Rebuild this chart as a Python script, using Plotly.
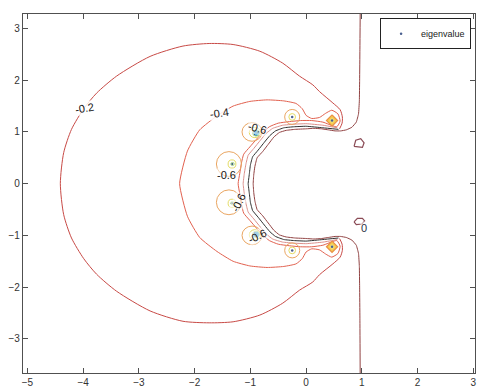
import plotly.graph_objects as go

# ---------------- data (data units) ----------------
# outer contour, level -0.2
ARC_M02_X = [0.60, 0.645, 0.65, 0.61, 0.48, 0.24, 0.12, -0.12, -0.42, -0.83, -1.31, -1.74, -2.21, -2.80, -3.40,
             -3.76, -3.99, -4.21, -4.35, -4.41, -4.35, -4.21, -3.99, -3.76, -3.40, -2.80, -2.21, -1.74, -1.31,
             -0.83, -0.42, -0.12, 0.12, 0.24, 0.48, 0.61, 0.65, 0.645, 0.60]
ARC_M02_Y = [1.06, 1.17, 1.29, 1.43, 1.56, 1.78, 1.91, 2.08, 2.33, 2.56, 2.69, 2.71, 2.66, 2.46, 2.08,
             1.75, 1.45, 1.05, 0.60, 0.00, -0.60, -1.05, -1.45, -1.75, -2.08, -2.46, -2.66, -2.69, -2.67,
             -2.54, -2.31, -2.06, -1.90, -1.76, -1.55, -1.42, -1.29, -1.17, -1.06]

# vertical line joined to the innermost C-shaped line
VLINE_X = [0.97, 0.965, 0.96, 0.955, 0.94, 0.90, 0.82, 0.72, 0.62, 0.52, 0.40, 0.28, 0.14, 0.00, -0.20, -0.36,
           -0.48, -0.58, -0.68, -0.78, -0.88, -0.92, -0.94, -0.95, -0.94, -0.92, -0.88, -0.78, -0.68, -0.58,
           -0.48, -0.36, -0.20, 0.00, 0.14, 0.28, 0.40, 0.52, 0.62, 0.72, 0.82, 0.90, 0.94, 0.955, 0.96, 0.965, 0.97]
VLINE_Y = [3.29, 2.60, 2.00, 1.60, 1.35, 1.19, 1.09, 1.04, 1.02, 1.02, 1.04, 1.06, 1.07, 1.06, 1.05, 1.03,
           0.99, 0.90, 0.76, 0.62, 0.50, 0.33, 0.17, 0.00, -0.17, -0.33, -0.50, -0.62, -0.76, -0.90,
           -0.99, -1.03, -1.05, -1.06, -1.07, -1.06, -1.04, -1.02, -1.02, -1.04, -1.09, -1.19, -1.35, -1.60, -2.00, -2.60, -3.73]

# pink C line
C2_X = [0.56, 0.30, 0.00, -0.22, -0.42, -0.60, -0.72, -0.82, -0.94, -1.04, -1.08, -1.11, -1.13,
        -1.11, -1.08, -1.04, -0.94, -0.82, -0.72, -0.60, -0.42, -0.22, 0.00, 0.30, 0.56]
C2_Y = [1.08, 1.13, 1.16, 1.15, 1.13, 1.07, 0.97, 0.84, 0.68, 0.55, 0.38, 0.19, 0.00,
        -0.19, -0.38, -0.55, -0.68, -0.84, -0.97, -1.07, -1.13, -1.15, -1.16, -1.13, -1.08]

# black C line
C3_X = [0.58, 0.30, 0.00, -0.22, -0.40, -0.55, -0.65, -0.75, -0.86, -0.96, -1.00, -1.02, -1.04,
        -1.02, -1.00, -0.96, -0.86, -0.75, -0.65, -0.55, -0.40, -0.22, 0.00, 0.30, 0.58]
C3_Y = [1.05, 1.08, 1.11, 1.10, 1.08, 1.02, 0.93, 0.80, 0.65, 0.52, 0.36, 0.18, 0.00,
        -0.18, -0.36, -0.52, -0.65, -0.80, -0.93, -1.02, -1.08, -1.10, -1.11, -1.08, -1.05]

# level -0.4 (closed band around the C)
M04_X = [0.55, 0.61, 0.57, 0.46, 0.35, 0.24, 0.10, 0.00, -0.07, -0.18, -0.40, -0.70, -1.01, -1.31, -1.60,
         -1.91, -2.13, -2.27, -2.13, -1.91, -1.60, -1.31, -1.01, -0.70, -0.40, -0.18, -0.07, 0.00, 0.10,
         0.24, 0.35, 0.46, 0.57, 0.61, 0.55, 0.30, 0.10, -0.10, -0.30, -0.50, -0.66, -0.78, -0.89, -1.01,
         -1.12, -1.16, -1.19, -1.22, -1.19, -1.16, -1.12, -1.01, -0.89, -0.78, -0.66, -0.50, -0.30, -0.10,
         0.10, 0.30, 0.55]
M04_Y = [1.10, 1.21, 1.35, 1.42, 1.36, 1.28, 1.26, 1.32, 1.45, 1.55, 1.60, 1.62, 1.59, 1.50, 1.31,
         1.04, 0.63, 0.00, -0.63, -1.04, -1.31, -1.50, -1.59, -1.62, -1.60, -1.55, -1.45, -1.32, -1.26,
         -1.28, -1.36, -1.42, -1.35, -1.21, -1.10, -1.19, -1.22, -1.22, -1.20, -1.17, -1.10, -0.99, -0.86, -0.71,
         -0.57, -0.40, -0.20, 0.00, 0.20, 0.40, 0.57, 0.71, 0.86, 0.99, 1.10, 1.17, 1.20, 1.22,
         1.22, 1.19, 1.10]

# level -0.6 loops round the eigenvalues
ORANGE_CX = [-0.97, -1.385, -1.385, -0.97, -0.25, -0.25]
ORANGE_CY = [1.00, 0.38, -0.36, -1.00, 1.29, -1.29]
ORANGE_RX = [0.18, 0.225, 0.225, 0.18, 0.135, 0.135]
ORANGE_RY = [0.18, 0.24, 0.24, 0.18, 0.145, 0.145]

YELLOW_CX = [-0.92, -1.33, -1.33, -0.92, -0.25, -0.25]
YELLOW_CY = [0.99, 0.38, -0.38, -0.99, 1.29, -1.29]
YELLOW_RX = [0.10, 0.07, 0.07, 0.10, 0.06, 0.06]
YELLOW_RY = [0.10, 0.08, 0.08, 0.10, 0.065, 0.065]

GREEN_CX = [-0.90, -1.32, -1.32, -0.90]
GREEN_CY = [0.98, 0.38, -0.38, -0.98]
GREEN_R = [0.06, 0.03, 0.03, 0.06]

CYAN_CX = [-0.89, -0.89]
CYAN_CY = [0.98, -0.98]
CYAN_R = [0.035, 0.035]

DIAMOND_CX = [0.465, 0.465]
DIAMOND_CY = [1.22, -1.22]
DIAMOND_RX = [0.10, 0.10]
DIAMOND_RY = [0.11, 0.11]

# small loops near x = 1
SMALL_TOP_X = [0.86, 0.89, 0.98, 1.04, 1.01, 0.86]
SMALL_TOP_Y = [0.72, 0.84, 0.87, 0.79, 0.70, 0.72]
SMALL_BOT_X = [0.86, 0.92, 1.01, 1.05, 1.00, 0.90, 0.86]
SMALL_BOT_Y = [-0.74, -0.67, -0.67, -0.72, -0.78, -0.79, -0.74]

# eigenvalues
EIG_X = [-0.89, -1.33, -1.33, -0.89, -0.25, -0.25, 0.465, 0.465]
EIG_Y = [0.98, 0.38, -0.38, -0.98, 1.29, -1.29, 1.22, -1.22]

# contour labels
LABEL_TEXT = ["-0.2", "-0.4", "-0.6", "-0.6", "-0.6", "-0.6", "0"]
LABEL_X = [-3.97, -1.55, -0.88, -1.42, -1.22, -0.87, 1.04]
LABEL_Y = [1.47, 1.36, 1.08, 0.16, -0.37, -1.02, -0.85]
LABEL_ANGLE = [-10, -8, 15, 0, -65, -25, 0]

X_TICKS = [-5, -4, -3, -2, -1, 0, 1, 2, 3]
Y_TICKS = [-3, -2, -1, 0, 1, 2, 3]

# ---------------- figure ----------------
fig = go.Figure()


def line(x, y, color, width=1.0, smoothing=0.7):
    fig.add_trace(go.Scatter(x=x, y=y, mode="lines", showlegend=False, hoverinfo="skip",
                             line=dict(color=color, width=width, shape="spline", smoothing=smoothing)))


line(ARC_M02_X, ARC_M02_Y, "#c84a46")
line(M04_X, M04_Y, "#e2614f", smoothing=0.5)
line(C2_X, C2_Y, "#dc908c", smoothing=0.3)
line(C3_X, C3_Y, "#2f2f2f", smoothing=0.3)
line(VLINE_X, VLINE_Y, "#914242", smoothing=0.3)

fig.add_trace(go.Scatter(x=SMALL_TOP_X, y=SMALL_TOP_Y, mode="lines", showlegend=False, hoverinfo="skip",
                         line=dict(color="#8a4a55", width=1.2)))
fig.add_trace(go.Scatter(x=SMALL_BOT_X, y=SMALL_BOT_Y, mode="lines", showlegend=False, hoverinfo="skip",
                         line=dict(color="#8a4a55", width=1.2)))

# diamonds
for cx, cy, rx, ry in zip(DIAMOND_CX, DIAMOND_CY, DIAMOND_RX, DIAMOND_RY):
    fig.add_trace(go.Scatter(x=[cx, cx + rx, cx, cx - rx, cx], y=[cy + ry, cy, cy - ry, cy, cy + ry],
                             mode="lines", fill="toself", fillcolor="#f6c94e", showlegend=False,
                             hoverinfo="skip", line=dict(color="#e98f45", width=1.2)))
    fig.add_trace(go.Scatter(x=[cx, cx + rx / 2, cx, cx - rx / 2, cx], y=[cy + ry / 2, cy, cy - ry / 2, cy, cy + ry / 2],
                             mode="lines", fill="toself", fillcolor="#f4e486", showlegend=False,
                             hoverinfo="skip", line=dict(color="#f0d460", width=0.8)))

shapes = []


def ellipses(cxs, cys, rxs, rys, color, width=1.0, fill=None):
    for cx, cy, rx, ry in zip(cxs, cys, rxs, rys):
        shapes.append(dict(type="circle", xref="x", yref="y", x0=cx - rx, x1=cx + rx, y0=cy - ry, y1=cy + ry,
                           line=dict(color=color, width=width), fillcolor=fill if fill else "rgba(0,0,0,0)"))


ellipses(ORANGE_CX, ORANGE_CY, ORANGE_RX, ORANGE_RY, "#eaa662")
ellipses(YELLOW_CX, YELLOW_CY, YELLOW_RX, YELLOW_RY, "#e4dc64")
ellipses(GREEN_CX, GREEN_CY, GREEN_R, GREEN_R, "#a3d684")
ellipses(CYAN_CX, CYAN_CY, CYAN_R, CYAN_R, "#3fbfe0", fill="rgba(63,191,224,0.5)")

# blue blobs at the two left eigenvalues
fig.add_trace(go.Scatter(x=CYAN_CX, y=CYAN_CY, mode="markers", showlegend=False, hoverinfo="skip",
                         marker=dict(color="#1c3fae", size=6)))

fig.add_trace(go.Scatter(x=EIG_X, y=EIG_Y, mode="markers", name="eigenvalue",
                         marker=dict(color="#4a6090", size=2.5)))

annotations = []
for t, x, y, a in zip(LABEL_TEXT, LABEL_X, LABEL_Y, LABEL_ANGLE):
    annotations.append(dict(x=x, y=y, xref="x", yref="y", text=t, showarrow=False, textangle=a,
                            font=dict(family="Liberation Sans, Arial, sans-serif", size=11,
                                      color="#2a3346" if t == "0" else "#151515"),
                            bgcolor="rgba(255,255,255,0.85)" if t in ("-0.2", "-0.4") else "rgba(255,255,255,0.55)",
                            borderpad=0))

axis_common = dict(showgrid=False, zeroline=False, showline=True, linecolor="#505050", linewidth=1.2,
                   ticks="inside", ticklen=5, tickcolor="#505050", mirror="ticks", automargin=False,
                   tickfont=dict(family="Liberation Sans, Arial, sans-serif", size=10, color="#333333"))

fig.update_layout(
    width=478, height=387,
    margin=dict(l=23, r=3, t=14, b=14),
    paper_bgcolor="white", plot_bgcolor="white",
    xaxis=dict(range=[-5.08, 3.03], tickvals=X_TICKS, **axis_common),
    yaxis=dict(range=[-3.66, 3.28], tickvals=Y_TICKS, **axis_common),
    shapes=shapes,
    annotations=annotations,
    legend=dict(x=0.79, y=0.988, xanchor="left", yanchor="top", bgcolor="white",
                bordercolor="#222222", borderwidth=1, tracegroupgap=0,
                font=dict(family="Liberation Sans, Arial, sans-serif", size=9, color="#222222"),
                itemwidth=30),
    showlegend=True,
)

fig.write_html("out.html")
